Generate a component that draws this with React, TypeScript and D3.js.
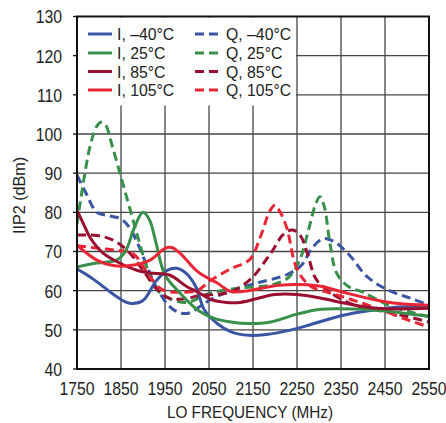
import React from "react";
import * as d3 from "d3";

const xTicks = [1750, 1850, 1950, 2050, 2150, 2250, 2350, 2450, 2550];
const yTicks = [40, 50, 60, 70, 80, 90, 100, 110, 120, 130];

const iM40: [number, number][] = [[1750,65.5],[1780,63.5],[1810,61],[1840,58.5],[1870,56.8],[1900,57.5],[1930,62.5],[1955,65.2],[1977,65.7],[2000,64.2],[2020,61],[2040,55],[2070,51.5],[2100,49.5],[2140,48.6],[2180,48.8],[2230,49.8],[2280,51.3],[2350,53.6],[2420,55],[2480,55.8],[2550,56]];
const qM40: [number, number][] = [[1750,89.5],[1770,85],[1795,80],[1820,79.2],[1850,78.3],[1870,76],[1890,71.5],[1910,66],[1930,61],[1960,56],[1985,54.3],[2005,54.3],[2030,56],[2055,57.8],[2100,60],[2160,62],[2225,64],[2260,66.5],[2285,71],[2310,73.3],[2335,72.5],[2370,69],[2410,63.5],[2460,60],[2510,58],[2550,56.3]];
const i25: [number, number][] = [[1750,66],[1790,67],[1840,67.8],[1860,70],[1880,76],[1900,80],[1915,78],[1930,72],[1950,64],[1985,59.3],[2025,55],[2060,53],[2100,52],[2140,51.6],[2190,52],[2250,54],[2300,55.2],[2380,55.3],[2450,54.8],[2510,54],[2550,53.5]];
const q25: [number, number][] = [[1750,77],[1765,88],[1780,97],[1795,102],[1805,103],[1815,102.3],[1830,97],[1850,89],[1870,81],[1890,73],[1910,65.5],[1930,60.5],[1960,58],[2000,57],[2050,59.3],[2120,60.7],[2190,61.4],[2230,63.3],[2255,67.5],[2275,75],[2292,82],[2302,84],[2312,81.5],[2325,72],[2340,64.5],[2365,61.2],[2400,59.6],[2460,56.2],[2510,54.5],[2550,53.3]];
const i85: [number, number][] = [[1750,80.5],[1765,77],[1780,73.5],[1810,69.5],[1848,67],[1886,65.2],[1916,64.5],[1960,64],[2000,61],[2025,59.6],[2055,57.7],[2090,57],[2120,57],[2160,58],[2200,59],[2250,59],[2300,58.2],[2350,57],[2430,55.5],[2550,55.5]];
const q85: [number, number][] = [[1750,74.2],[1795,74.1],[1832,72.9],[1864,70.3],[1900,65.2],[1932,60.3],[1961,58],[2000,58],[2025,58.7],[2060,59],[2100,59.7],[2145,63],[2190,69.5],[2220,74.5],[2240,75.5],[2258,74],[2275,69],[2293,63],[2325,59.6],[2360,57.3],[2395,55.8],[2470,54.2],[2550,52]];
const i105: [number, number][] = [[1750,71.6],[1795,67.8],[1832,66.4],[1870,66.4],[1916,67.8],[1950,70.8],[1965,71],[1984,69.6],[2025,64.8],[2068,62],[2100,59.8],[2140,60],[2210,61.4],[2300,61.2],[2355,59.6],[2430,57.6],[2480,56.7],[2550,56.3]];
const q105: [number, number][] = [[1750,71.5],[1800,70.8],[1841,70.3],[1877,69.5],[1916,63.5],[1945,60.2],[1984,59.6],[2025,60.1],[2052,62.5],[2098,65.5],[2143,68],[2166,73.5],[2189,80.5],[2200,81.8],[2212,80],[2227,76],[2250,65.5],[2280,61.2],[2320,59.6],[2355,58.4],[2432,55.5],[2490,53],[2550,50.7]];

const colors = { m40: "#3a55a4", c25: "#38904a", c85: "#9a0f30", c105: "#ea2636" };

const series = [
  { name: "Q, –40°C", data: qM40, color: colors.m40, dashed: true },
  { name: "Q, 25°C", data: q25, color: colors.c25, dashed: true },
  { name: "Q, 85°C", data: q85, color: colors.c85, dashed: true },
  { name: "Q, 105°C", data: q105, color: colors.c105, dashed: true },
  { name: "I, –40°C", data: iM40, color: colors.m40, dashed: false },
  { name: "I, 25°C", data: i25, color: colors.c25, dashed: false },
  { name: "I, 85°C", data: i85, color: colors.c85, dashed: false },
  { name: "I, 105°C", data: i105, color: colors.c105, dashed: false },
];

const FONT = "'Liberation Sans', Arial, sans-serif";

function CText(props: { x: number; y: number; sx: number; size: number; anchor?: string; rotate?: number; dy?: string; children: React.ReactNode }) {
  const { x, y, sx, size, anchor, rotate, dy, children } = props;
  return (
    <text transform={`translate(${x},${y})${rotate ? ` rotate(${rotate})` : ""} scale(${sx},1)`}
      textAnchor={anchor || "start"} fontSize={size} dy={dy} fill="#222">{children}</text>
  );
}

export default function App() {
  const W = 446, H = 423;
  const L = 77, R = 429, T = 16.5, B = 369;
  const x = d3.scaleLinear().domain([1750, 2550]).range([L, R]);
  const y = d3.scaleLinear().domain([40, 130]).range([B, T]);
  const line = d3.line<[number, number]>().x(d => x(d[0])).y(d => y(d[1])).curve(d3.curveCatmullRom.alpha(0.5));

  const legendI = series.filter(s => !s.dashed);
  const legendQ = series.filter(s => s.dashed);
  const rowY = [34, 53, 71.5, 90];

  return (
    <svg width={W} height={H} style={{ position: "absolute", left: 0, top: 0, background: "#fff" }} fontFamily={FONT}>
      <defs>
        <clipPath id="plot"><rect x={L} y={T} width={R - L} height={B - T} /></clipPath>
      </defs>
      {xTicks.slice(1, -1).map(t => (
        <line key={"gx" + t} x1={x(t)} x2={x(t)} y1={T} y2={B} stroke="#444" strokeWidth={1.3} />
      ))}
      {yTicks.slice(1, -1).map(t => (
        <line key={"gy" + t} x1={L} x2={R} y1={y(t)} y2={y(t)} stroke="#444" strokeWidth={1.3} />
      ))}
      <rect x={L + 1} y={T + 1} width={218} height={88} fill="#fff" />
      <g clipPath="url(#plot)">
        {series.map(s => (
          <path key={s.name} d={line(s.data) || ""} fill="none" stroke={s.color} strokeWidth={3}
            strokeDasharray={s.dashed ? "9,5" : undefined} strokeLinejoin="round" />
        ))}
      </g>
      <rect x={L} y={T} width={R - L} height={B - T} fill="none" stroke="#111" strokeWidth={2} />
      {yTicks.map(t => (
        <g key={"yt" + t}>
          <line x1={L - 4} x2={L} y1={y(t)} y2={y(t)} stroke="#111" strokeWidth={1.3} />
          <CText x={62} y={y(t)} sx={0.83} size={19} anchor="end" dy="0.36em">{t}</CText>
        </g>
      ))}
      {xTicks.map(t => (
        <CText key={"xt" + t} x={x(t)} y={395} sx={0.83} size={19} anchor="middle">{t}</CText>
      ))}
      <CText x={250} y={418} sx={0.9} size={17} anchor="middle">LO FREQUENCY (MHz)</CText>
      <CText x={25} y={195.5} sx={0.95} size={17} anchor="middle" rotate={-90}>IIP2 (dBm)</CText>
      {legendI.map((s, i) => (
        <g key={"li" + i}>
          <line x1={88} x2={112} y1={rowY[i]} y2={rowY[i]} stroke={s.color} strokeWidth={3} />
          <CText x={117} y={rowY[i]} sx={0.93} size={17} dy="0.36em">{s.name}</CText>
        </g>
      ))}
      {legendQ.map((s, i) => (
        <g key={"lq" + i}>
          <line x1={195} x2={221} y1={rowY[i]} y2={rowY[i]} stroke={s.color} strokeWidth={3} strokeDasharray="9,5" />
          <CText x={226} y={rowY[i]} sx={0.93} size={17} dy="0.36em">{s.name}</CText>
        </g>
      ))}
    </svg>
  );
}
